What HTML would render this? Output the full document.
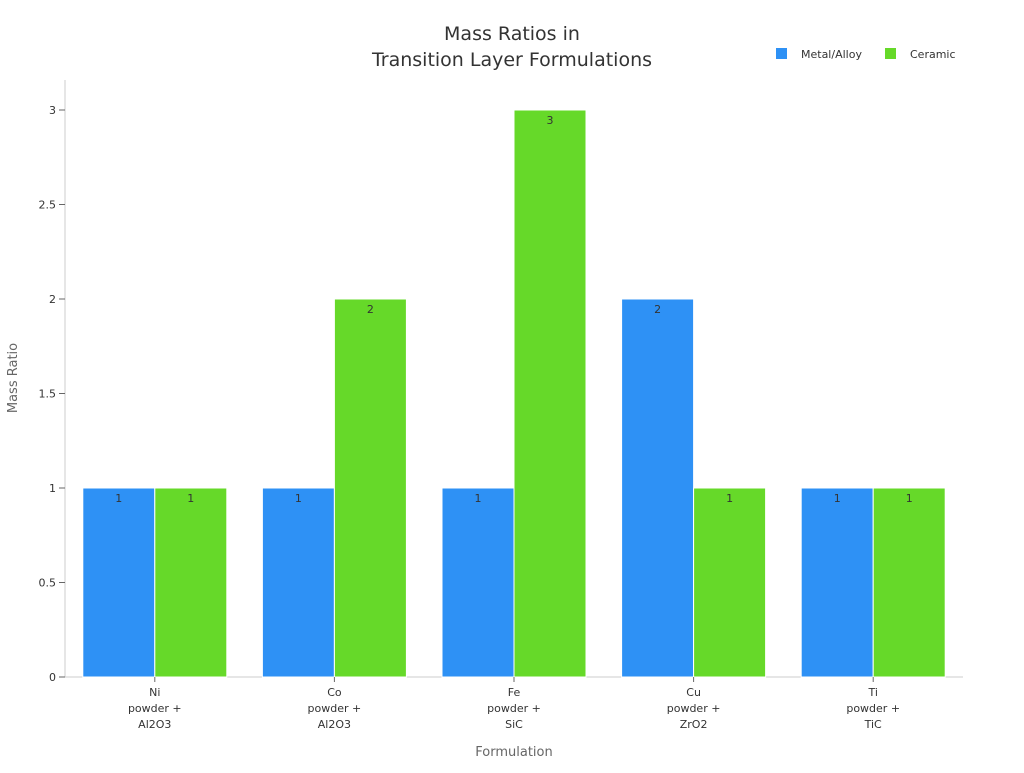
<!DOCTYPE html>
<html><head><meta charset="utf-8"><style>
body{margin:0;background:#fff;font-family:"Liberation Sans","DejaVu Sans",sans-serif;}
svg text{font-family:"DejaVu Sans","Liberation Sans",sans-serif;}
</style></head><body>
<svg id="chart" width="1024" height="768" xmlns="http://www.w3.org/2000/svg">
<text x="512" y="40" text-anchor="middle" font-size="19" fill="#333">Mass Ratios in</text>
<text x="512" y="66" text-anchor="middle" font-size="19" fill="#333">Transition Layer Formulations</text>
<g>
<rect x="776" y="48" width="11" height="11" fill="#2e91f5"/>
<text x="801" y="58" font-size="11" fill="#333">Metal/Alloy</text>
<rect x="885" y="48" width="11" height="11" fill="#66d929"/>
<text x="910" y="58" font-size="11" fill="#333">Ceramic</text>
</g>
<g id="plot"></g>
<text transform="translate(17,378) rotate(-90)" text-anchor="middle" font-size="13" fill="#666">Mass Ratio</text>
<text x="514" y="756" text-anchor="middle" font-size="13" fill="#666">Formulation</text>
</svg>
<script>
const categories=[["Ni","powder +","Al2O3"],["Co","powder +","Al2O3"],["Fe","powder +","SiC"],["Cu","powder +","ZrO2"],["Ti","powder +","TiC"]];
const metalValues=[1,1,1,2,1];
const ceramicValues=[1,2,3,1,1];
const yTicks=[0,0.5,1,1.5,2,2.5,3];
const yTickLabels=["0","0.5","1","1.5","2","2.5","3"];
const NS="http://www.w3.org/2000/svg";
const g=document.getElementById('plot');
const x0=65,x1=963,yBase=677,yTop=110,yMax=3;
const yS=v=>yBase-(v/yMax)*(yBase-yTop);
const band=(x1-x0)/categories.length;
const xC=i=>x0+band*(i+0.5);
const bw=72;
function mk(t,a){const e=document.createElementNS(NS,t);for(const k in a)e.setAttribute(k,a[k]);g.appendChild(e);return e;}
let ax=mk('line',{x1:x0,y1:80,x2:x0,y2:yBase,stroke:'#ccc'});


let bx=mk('line',{x1:x0,y1:yBase,x2:x1,y2:yBase,stroke:'#ccc'});


yTicks.forEach((v,i)=>{
 const y=yS(v);
 let tk=mk('line',{x1:x0-6,y1:y,x2:x0,y2:y,stroke:'#666'});
 
 
 let t=mk('text',{x:x0-9,y:y+4,'text-anchor':'end','font-size':11,fill:'#333'});
 t.textContent=yTickLabels[i];
 
 
});
function bar(i,v,off,col,nm){
 const x=xC(i)+off,y=yS(v);
 let r=mk('rect',{x:x,y:y,width:bw,height:yBase-y,fill:col,stroke:'#fff','stroke-width':1});
 
 
 let t=mk('text',{x:x+bw/2,y:y+14,'text-anchor':'middle','font-size':11,fill:'#333'});
 t.textContent=v;
 
 
}
categories.forEach((c,i)=>{
 bar(i,metalValues[i],-bw,'#2e91f5','bar-metal-'+i);
 bar(i,ceramicValues[i],0,'#66d929','bar-ceramic-'+i);
 let tk=mk('line',{x1:xC(i),y1:yBase,x2:xC(i),y2:yBase+5,stroke:'#666'});
 
 
 c.forEach((ln,j)=>{
  let t=mk('text',{x:xC(i),y:696+j*16,'text-anchor':'middle','font-size':11,fill:'#333'});
  t.textContent=ln;
  
  
 });
});
</script>
</body></html>
